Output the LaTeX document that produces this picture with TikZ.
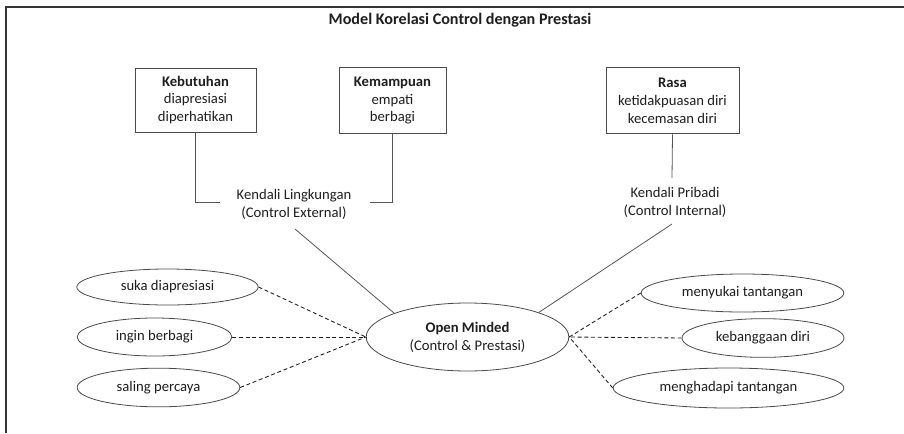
\documentclass[tikz,border=0pt]{standalone}
\usepackage{fontspec}
\setmainfont{Carlito}
\usetikzlibrary{shapes.geometric}
\definecolor{ink}{HTML}{1E1E1E}
\definecolor{edge}{HTML}{4A4A4A}
\definecolor{wire}{HTML}{555555}
\tikzset{
  x=0.75pt, y=-0.75pt,
  every node/.style={text=ink, font=\fontsize{11pt}{13.4pt}\selectfont},
  factorbox/.style={draw=edge, line width=0.7pt, align=center, inner sep=0pt},
  bubble/.style={draw=edge, line width=0.6pt, ellipse, align=center, inner sep=0pt},
  label/.style={align=center, inner sep=0pt},
  solidwire/.style={draw=wire, line width=0.6pt},
  dashwire/.style={draw=ink, line width=0.65pt, dash pattern=on 3pt off 2pt},
}
\begin{document}
\begin{tikzpicture}
\useasboundingbox (0,0) rectangle (904,433);
% frame
\draw[draw=ink!90, line width=0.8pt] (6,433) -- (6,7) -- (904,7);

% title
\node[font=\fontsize{12.1pt}{14.5pt}\selectfont\bfseries] (title) at (460,20) {Model Korelasi Control dengan Prestasi};

% factor boxes
\node[factorbox, minimum width=90.75pt, minimum height=48pt] (keb) at (195.5,100)
  {\textbf{Kebutuhan}\\diapresiasi\\diperhatikan};
\node[factorbox, minimum width=80.25pt, minimum height=50pt] (kem) at (392.5,100.5)
  {\textbf{Kemampuan}\\empati\\berbagi};
\node[factorbox, minimum width=99.75pt, minimum height=50pt] (ras) at (672.5,100.5)
  {\textbf{Rasa}\\ketidakpuasan diri\\kecemasan diri};

% control labels
\node[label] (ext) at (294,204) {Kendali Lingkungan\\(Control External)};
\node[label] (int) at (675,202) {Kendali Pribadi\\(Control Internal)};
\coordinate (extL) at (220,202);
\coordinate (extR) at (370,202);
\coordinate (extB) at (295,229);
\coordinate (intT) at (672,178);
\coordinate (intB) at (672,224);

% central node
\node[bubble, minimum width=152pt, minimum height=51pt] (om) at (467.5,337)
  {\textbf{Open Minded}\\(Control \& Prestasi)};

% left traits
\node[bubble, minimum width=136pt, minimum height=27pt] (l1) at (167.5,287) {suka diapresiasi};
\node[bubble, minimum width=116pt, minimum height=28.5pt] (l2) at (154.5,337) {ingin berbagi};
\node[bubble, minimum width=122pt, minimum height=29pt] (l3) at (158.5,387.5) {saling percaya};

% right traits
\node[bubble, minimum width=152pt, minimum height=28.5pt] (r1) at (742.5,293) {menyukai tantangan};
\node[bubble, minimum width=121.5pt, minimum height=29pt] (r2) at (763,338) {kebanggaan diri};
\node[bubble, minimum width=173pt, minimum height=30pt] (r3) at (728.5,388) {menghadapi tantangan};

% solid links
\draw[solidwire] (keb.south) |- (extL);
\draw[solidwire] (kem.south) |- (extR);
\draw[solidwire] (extB) -- (om.162);
\draw[solidwire] (ras.south) -- (intT);
\draw[solidwire] (intB) -- (om.19);

% dashed links
\draw[dashwire] (l1.east) -- (om.west);
\draw[dashwire] (l2.east) -- (om.west);
\draw[dashwire] (l3.east) -- (om.west);
\draw[dashwire] (r1.west) -- (om.east);
\draw[dashwire] (r2.west) -- (om.east);
\draw[dashwire] (r3.west) -- (om.east);
\end{tikzpicture}
\end{document}
